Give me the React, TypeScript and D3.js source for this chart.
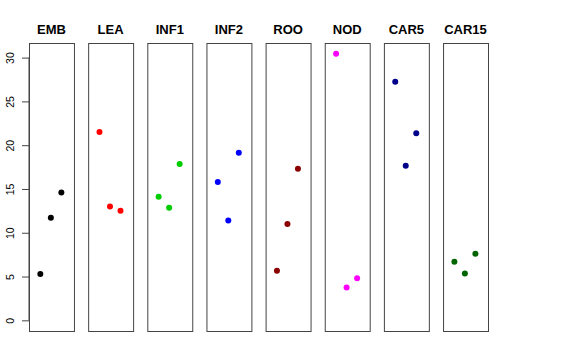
import { useEffect, useRef } from "react"
import * as d3 from "d3"

const groups = ["EMB", "LEA", "INF1", "INF2", "ROO", "NOD", "CAR5", "CAR15"]
const colors = ["#000000", "#FF0000", "#00CD00", "#0000FF", "#8B0000", "#FF00FF", "#00008B", "#006400"]
const values = [
  [5.3, 11.7, 14.6],
  [21.5, 13.0, 12.5],
  [14.1, 12.85, 17.85],
  [15.8, 11.4, 19.15],
  [5.65, 11.0, 17.3],
  [30.45, 3.75, 4.8],
  [27.25, 17.65, 21.35],
  [6.7, 5.35, 7.6],
]
const yTicks = [0, 5, 10, 15, 20, 25, 30]

export default function App() {
  const svgRef = useRef<SVGSVGElement>(null)

  useEffect(() => {
    if (!svgRef.current) return

    // Clear previous chart
    d3.select(svgRef.current).selectAll("*").remove()

    const width = 576
    const height = 360
    const plotTop = 43
    const plotBottom = 331

    const svg = d3
      .select(svgRef.current)
      .attr("width", width)
      .attr("height", height)

    // y range like R: 0..max, extended by 4%
    const yMax = d3.max(values.flat()) || 0
    const pad = yMax * 0.04
    const y = d3
      .scaleLinear()
      .domain([0 - pad, yMax + pad])
      .range([plotBottom, plotTop])

    // Panels
    const panel = d3
      .scaleBand()
      .domain(groups)
      .range([29, 488])
      .paddingInner(0.24)
      .paddingOuter(0)

    // x inside each panel: positions 1, 2, 3
    const xi = d3.scaleLinear().domain([-0.08, 4.2]).range([0, panel.bandwidth()])

    // Y axis on the first panel
    const axis = svg
      .append("g")
      .attr("transform", `translate(${panel(groups[0])},0)`)
      .call(d3.axisLeft(y).tickValues(yTicks).tickSize(7).tickPadding(3))
    axis.select(".domain").attr("stroke", "#444").attr("d", `M0,${y(0)}V${y(30)}`)
    axis.selectAll(".tick line").attr("stroke", "#444")
    axis
      .selectAll(".tick text")
      .attr("font-family", "Liberation Sans, Arial, sans-serif")
      .attr("font-size", "10.5px")
      .attr("fill", "#000")
      .attr("text-anchor", "middle")
      .attr("x", -19)
      .attr("dy", "0.35em")
      .attr("transform", "rotate(-90)")
      .each(function () {
        const t = d3.select(this)
        // rotate around own position
        t.attr("transform", "rotate(-90,-19,0)")
      })

    groups.forEach((g, i) => {
      const gx = panel(g) || 0
      const pg = svg.append("g").attr("transform", `translate(${gx},0)`)

      // Box
      pg.append("rect")
        .attr("x", 0.5)
        .attr("y", plotTop + 0.5)
        .attr("width", panel.bandwidth())
        .attr("height", plotBottom - plotTop)
        .attr("fill", "none")
        .attr("stroke", "#444")
        .attr("stroke-width", 1)

      // Title
      pg.append("text")
        .attr("x", panel.bandwidth() / 2)
        .attr("y", 34)
        .attr("text-anchor", "middle")
        .attr("font-family", "Liberation Sans, Arial, sans-serif")
        .attr("font-size", "13px")
        .attr("font-weight", "bold")
        .text(g)

      // Points
      pg.selectAll(".pt")
        .data(values[i])
        .enter()
        .append("circle")
        .attr("class", "pt")
        .attr("cx", (_, j) => xi(j + 1))
        .attr("cy", (d) => y(d))
        .attr("r", 3)
        .attr("fill", colors[i])
    })
  }, [])

  return (
    <div style={{ position: "absolute", left: 0, top: 0, width: 576, height: 360, background: "#fff" }}>
      <svg ref={svgRef} style={{ display: "block" }}></svg>
    </div>
  )
}
